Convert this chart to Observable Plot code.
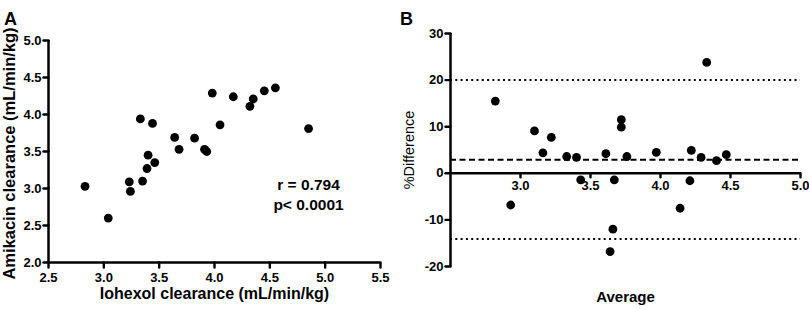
<!DOCTYPE html>
<html>
<head>
<meta charset="utf-8">
<script src="https://cdn.jsdelivr.net/npm/d3@7"></script>
<script src="https://cdn.jsdelivr.net/npm/@observablehq/plot@0.6"></script>
<style>
  html, body { margin: 0; padding: 0; background: #fff; }
  #wrap { display: flex; width: 809px; height: 310px; }
  #wrap svg { display: block; }
</style>
</head>
<body>
<div id="wrap"><div id="pa"></div><div id="pb"></div></div>
<script>
// ---- Panel A data ----
const iohexolA = [3.33,3.44,3.98,4.17,4.35,4.32,4.45,4.55,4.05,4.85,3.64,3.82,3.68,3.91,3.93,3.40,3.46,3.39,3.23,3.35,3.24,2.83,3.04];
const amikacinA = [3.94,3.88,4.29,4.24,4.21,4.11,4.32,4.36,3.86,3.81,3.69,3.68,3.53,3.53,3.50,3.45,3.35,3.27,3.09,3.10,2.96,3.03,2.60];
const xTicksA = [2.5,3.0,3.5,4.0,4.5,5.0,5.5];
const yTicksA = [2.0,2.5,3.0,3.5,4.0,4.5,5.0];
const statsA = ["r = 0.794", "p< 0.0001"];
const titleA = "A";
const xLabelA = "Iohexol clearance (mL/min/kg)";
const yLabelA = "Amikacin clearance (mL/min/kg)";

// ---- Panel B data ----
const averageB = [2.82,4.33,3.10,3.22,3.72,3.72,3.16,3.61,3.97,4.22,4.47,3.33,3.40,3.76,4.29,4.40,2.93,3.43,3.67,3.66,3.64,4.14,4.21];
const diffB = [15.5,23.8,9.1,7.7,11.5,9.9,4.4,4.2,4.5,4.9,4.0,3.6,3.4,3.6,3.4,2.7,-6.8,-1.4,-1.4,-12.0,-16.8,-7.5,-1.6];
const biasB = [2.9];
const limitsB = [20.0, -14.1];
const xTicksB = [3.0,3.5,4.0,4.5,5.0];
const yTicksB = [-20,-10,0,10,20,30];
const titleB = "B";
const xLabelB = "Average";
const yLabelB = "%Difference";

const font = "'Liberation Sans', Arial, Helvetica, sans-serif";
const ptsA = iohexolA.map((x, i) => ({x, y: amikacinA[i]}));
const ptsB = averageB.map((x, i) => ({x, y: diffB[i]}));
const fmt1 = d => d.toFixed(1);
const lbl = {fontSize: 13, fontWeight: "bold", fontFamily: font, fill: "#000"};
const tickShape = {draw(context, l) { context.moveTo(0, 0); context.lineTo(0, -l); }};
const tk = {shape: tickShape, anchor: "start", stroke: "#000", strokeWidth: 2.4};

const plotA = Plot.plot({
  width: 400, height: 310,
  marginLeft: 48, marginRight: 20, marginTop: 40, marginBottom: 48,
  style: {fontFamily: font, fontSize: "13px", fontWeight: "bold", color: "#000", background: "#fff"},
  x: {domain: [xTicksA[0], xTicksA[xTicksA.length - 1]], axis: null},
  y: {domain: [yTicksA[0], yTicksA[yTicksA.length - 1]], axis: null},
  marks: [
    Plot.vector(xTicksA, {x: d => d, frameAnchor: "bottom", length: 5, rotate: 180, ...tk}),
    Plot.vector(yTicksA, {y: d => d, frameAnchor: "left", length: 5, rotate: -90, ...tk}),
    Plot.text(xTicksA, {x: d => d, frameAnchor: "bottom", dy: 15, text: fmt1, textAnchor: "middle", lineAnchor: "middle", ...lbl}),
    Plot.text(yTicksA, {y: d => d, frameAnchor: "left", dx: -7, text: fmt1, textAnchor: "end", lineAnchor: "middle", ...lbl}),
    Plot.ruleX([xTicksA[0]], {strokeWidth: 2.5}),
    Plot.ruleY([yTicksA[0]], {strokeWidth: 2.5}),
    Plot.dot(ptsA, {x: "x", y: "y", r: 4.4, fill: "#000", stroke: "none"}),
    Plot.text([statsA.join("\n")], {frameAnchor: "right", dx: -72, dy: 42, fontSize: 15.5, fontWeight: "bold", fontFamily: font, fill: "#000", lineHeight: 1.3, textAnchor: "middle"}),
    Plot.text([titleA], {frameAnchor: "top-left", dx: -38, dy: -28, fontSize: 18, fontWeight: "bold", fontFamily: font, fill: "#000", textAnchor: "middle"}),
    Plot.text([xLabelA], {frameAnchor: "bottom", dy: 36, fontSize: 16, fontWeight: "bold", fontFamily: font, fill: "#000", textAnchor: "middle"}),
    Plot.text([yLabelA], {frameAnchor: "left", dx: -38.5, dy: 2, rotate: -90, fontSize: 16.5, fontWeight: "bold", fontFamily: font, fill: "#000", textAnchor: "middle"})
  ]
});

const plotB = Plot.plot({
  width: 409, height: 310,
  marginLeft: 50, marginRight: 9, marginTop: 33, marginBottom: 44,
  style: {fontFamily: font, fontSize: "13px", fontWeight: "bold", color: "#000", background: "#fff"},
  x: {domain: [2.5, xTicksB[xTicksB.length - 1]], axis: null},
  y: {domain: [yTicksB[0], yTicksB[yTicksB.length - 1]], axis: null},
  marks: [
    Plot.vector(yTicksB, {y: d => d, frameAnchor: "left", length: 5, rotate: -90, ...tk}),
    Plot.text(yTicksB, {y: d => d, frameAnchor: "left", dx: -7, text: d => String(d), textAnchor: "end", lineAnchor: "middle", ...lbl}),
    Plot.vector(xTicksB, {x: d => d, y: () => 0, length: 4, rotate: 180, ...tk}),
    Plot.text(xTicksB, {x: d => d, y: () => 0, dy: 13, text: fmt1, textAnchor: "middle", lineAnchor: "middle", ...lbl}),
    Plot.ruleX([2.5], {strokeWidth: 2.5}),
    Plot.ruleY([0], {strokeWidth: 2.5}),
    Plot.ruleY(limitsB, {strokeWidth: 2, strokeDasharray: "2,3.3"}),
    Plot.ruleY(biasB, {strokeWidth: 2, strokeDasharray: "6,3.5"}),
    Plot.dot(ptsB, {x: "x", y: "y", r: 4.4, fill: "#000", stroke: "none"}),
    Plot.text([titleB], {frameAnchor: "top-left", dx: -44, dy: -21, fontSize: 18, fontWeight: "bold", fontFamily: font, fill: "#000", textAnchor: "middle"}),
    Plot.text([xLabelB], {frameAnchor: "bottom", dy: 35, fontSize: 15, fontWeight: "bold", fontFamily: font, fill: "#000", textAnchor: "middle"}),
    Plot.text([yLabelB], {frameAnchor: "left", dx: -41, rotate: -90, fontSize: 14.5, fontWeight: "normal", fontFamily: font, fill: "#000", textAnchor: "middle"})
  ]
});

document.getElementById("pa").appendChild(plotA);
document.getElementById("pb").appendChild(plotB);
</script>
</body>
</html>
